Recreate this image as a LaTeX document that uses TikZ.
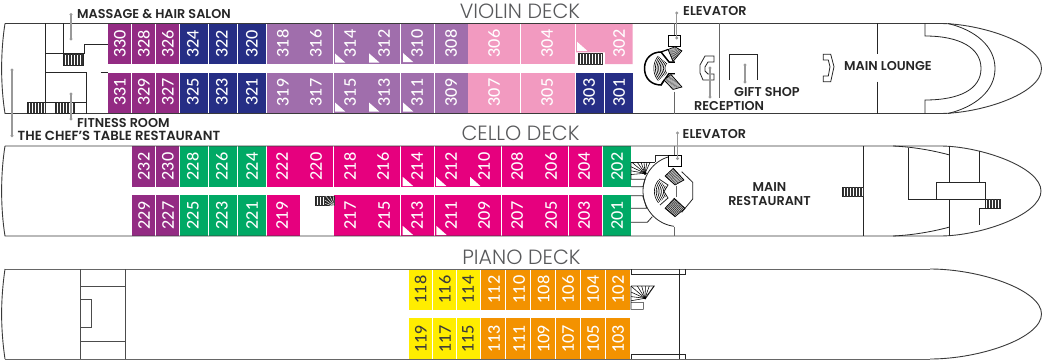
\documentclass[tikz,border=0pt]{standalone}
\usepackage{fontspec}
\newfontfamily\numfont{Lato}[UprightFont=* Medium]
\setmainfont{Lato}
\newfontfamily\lblfont{Poppins}[UprightFont=* SemiBold]
\newfontfamily\ttlfont{Poppins}[UprightFont=* Light]
\definecolor{cPurple}{HTML}{932B83}
\definecolor{cNavy}{HTML}{262E85}
\definecolor{cLav}{HTML}{A06EAC}
\definecolor{cPink}{HTML}{F29AC0}
\definecolor{cMag}{HTML}{E6007E}
\definecolor{cGreen}{HTML}{00A965}
\definecolor{cYel}{HTML}{FFED00}
\definecolor{cOra}{HTML}{F39200}
\definecolor{cLead}{HTML}{999999}
\definecolor{cLine}{HTML}{3A3A3A}
\definecolor{cTitle}{HTML}{58595B}
\tikzset{
  x=1pt,y=-1pt,
  roomno/.style={rotate=90,text=white,font=\numfont\fontsize{16}{16}\selectfont,inner sep=0pt},
  roomnod/.style={roomno,text=cLine},
  lbl/.style={anchor=west,inner sep=0pt,text=black!85,font=\lblfont\fontsize{12.8}{12}\selectfont},
  ttl/.style={inner sep=0pt,text=cTitle,font=\ttlfont\fontsize{20.6}{21}\selectfont},
  hull/.style={draw=cLine,line width=0.9pt},
  wall/.style={draw=black!85,line width=0.8pt},
  graywall/.style={draw=black!60,line width=1pt},
  lead/.style={draw=cLead,line width=1.3pt},
  tri/.style={fill=white},
}
\newcommand\room[5]{\fill[#5] (#1,#3) rectangle (#2,#4);}
\newcommand\num[3]{\node[roomno] (r#3) at (#1,#2) {#3};}
\newcommand\numd[3]{\node[roomnod] (r#3) at (#1,#2) {#3};}
\newcommand\trig[2]{\fill[tri] (#1,#2) -- (#1,#2+9.2) -- (#1+10.4,#2+9.2) -- cycle;}
\newcommand\leadr[3]{\draw[lead] (#1,#2) -- (#1,#3); \fill[cLead] (#1,#2) circle (1.7) (#1,#3) circle (1.7);}
\newcommand\vstair[4]{%
  \fill[white] (#1,#2) rectangle (#3,#4);
  \draw[black!85,line width=0.5pt] (#1,#2) rectangle (#3,#4);
  \pgfmathsetmacro\stA{#1+1.5}\pgfmathsetmacro\stB{#1+3}
  \foreach \sx in {\stA,\stB,...,#3}{\draw[black!80,line width=0.75pt] (\sx,#2) -- (\sx,#4);}
}
\newcommand\fan[5]{% cx cy r0 r1(second value) r-last: concentric arcs, left side
  \foreach \sr in {#3,#4,...,#5}{\draw[black,line width=0.6pt] plot[domain=140:220,samples=15] ({#1+\sr*cos(\x)},{#2+\sr*sin(\x)});}
}
\newcommand\rays[4]{% cx cy r list of angles
  \foreach \sa in {#4}{\draw[black,line width=0.55pt] (#1,#2) -- ({#1+#3*cos(\sa)},{#2+#3*sin(\sa)});}
}
\newcommand\hatchq[8]{% parallelogram stair
  \fill[black!85] (#1,#2) -- (#3,#4) -- (#5,#6) -- (#7,#8) -- cycle;
  \foreach \st in {0.1,0.2,...,0.95}{\draw[white,line width=0.35pt] ({#1+\st*(#3-#1)},{#2+\st*(#4-#2)}) -- ({#7+\st*(#5-#7)},{#8+\st*(#6-#8)});}
  \draw[black,line width=0.6pt] (#1,#2) -- (#3,#4) -- (#5,#6) -- (#7,#8) -- cycle;
}
\begin{document}
\begin{tikzpicture}
\useasboundingbox (0,0) rectangle (1048,361);
\fill[white] (0,0) rectangle (1048,361);

%%% VIOLIN rooms
\room{108}{131}{23.5}{64}{cPurple}\room{132}{155}{23.5}{64}{cPurple}\room{156}{179.3}{23.5}{64}{cPurple}
\room{180}{208.3}{23.5}{64}{cNavy}\room{209.3}{237}{23.5}{64}{cNavy}\room{238}{266.3}{23.5}{64}{cNavy}
\room{267}{333.3}{23.5}{64}{cLav}\room{334.3}{400}{23.5}{64}{cLav}\room{401.3}{434}{23.5}{64}{cLav}\room{435}{468}{23.5}{64}{cLav}
\room{468}{520}{23.5}{64}{cPink}\room{521}{574.5}{23.5}{64}{cPink}
\fill[cPink] (576,23.5) -- (632.5,23.5) -- (632.5,64) -- (605,64) -- (605,52.5) -- (576,52.5) -- cycle;
\room{108}{131}{73}{113}{cPurple}\room{132}{155}{73}{113}{cPurple}\room{156}{179.3}{73}{113}{cPurple}
\room{180}{208.3}{73}{113}{cNavy}\room{209.3}{237}{73}{113}{cNavy}\room{238}{266.3}{73}{113}{cNavy}
\room{267}{333.3}{73}{113}{cLav}\room{334.3}{400}{73}{113}{cLav}\room{401.3}{434}{73}{113}{cLav}\room{435}{468}{73}{113}{cLav}
\room{468}{520}{73}{113}{cPink}\room{521}{574.5}{73}{113}{cPink}
\room{576}{604}{73}{113}{cNavy}\room{605}{633}{73}{113}{cNavy}
\foreach \tx/\ty in {335/53.5,369/53.3,403/53,577/41.7,335/102.5,369/102.5,403/102.5}{\trig{\tx}{\ty}}
\num{120}{44}{330}\num{144}{44}{328}\num{168}{44}{326}\num{193}{44}{324}\num{222}{44}{322}\num{252}{44}{320}
\num{283}{43.5}{318}\num{316}{43.5}{316}\num{350}{43.5}{314}\num{384}{43.5}{312}\num{417}{43.5}{310}\num{451}{43.5}{308}
\num{494}{43.5}{306}\num{547}{43.5}{304}\num{619}{43.5}{302}
\num{120}{92}{331}\num{144}{92}{329}\num{168}{92}{327}\num{193}{92}{325}\num{222}{92}{323}\num{252}{92}{321}
\num{283}{92.5}{319}\num{316}{92.5}{317}\num{350}{92.5}{315}\num{384}{92.5}{313}\num{417}{92.5}{311}\num{451}{92.5}{309}
\num{494}{92.5}{307}\num{547}{92.5}{305}\num{589}{92.5}{303}\num{619}{92.5}{301}

%%% VIOLIN hull
\draw[hull] (5,23.5) -- (940,23.5) .. controls (980,23.5) and (1041.5,43) .. (1041.5,68.5) .. controls (1041.5,94) and (980,113.5) .. (940,113.5) -- (5,113.5) .. controls (0.5,85) and (0.5,52) .. (5,23.5);
\draw[wall] (948,23.5) .. controls (975,30) and (995,46) .. (995,68.5) .. controls (995,91) and (975,107) .. (948,113.5);
\draw[wall] (925,23.5) -- (925,36) .. controls (960,36) and (981,48) .. (981,68.5) .. controls (981,89) and (960,100) .. (925,100) -- (925,113.5);
\draw[wall] (877.3,23.5) -- (877.3,54.3) (877.3,81.7) -- (877.3,113.5);
\draw[wall] (823.3,54.3) -- (830.7,54.3) -- (834,66.7) -- (830.7,81.7) -- (823.3,81.7) -- (823.3,76) -- (828.3,76) -- (830,66.7) -- (828.3,60) -- (823.3,60) -- cycle;
\draw[wall] (729.3,80) -- (729.3,54.3) -- (757.7,54.3) -- (757.7,80);
\draw[graywall] (719.3,23.5) -- (719.3,98);
\draw[wall] (714,56) -- (705,56) -- (700,65) -- (700,73) -- (703,80) -- (714,80) -- (714,74) -- (708,74) -- (705,71) -- (705,67) -- (708,62) -- (714,62) -- cycle;
% left walls violin
\draw[wall] (45,23.5) -- (45,53.3) -- (84.3,53.3) -- (84.3,44.3) -- (108,44.3);
\draw[wall] (63.3,23.5) -- (63.3,53.3);
\draw[wall] (45,53.3) -- (45,113.5);
\draw[wall] (45,72.7) -- (86,72.7) -- (86,113.5);
\draw[wall] (100.7,72.7) -- (108,72.7);
\draw[wall] (27.3,102.7) -- (86,102.7);
\vstair{63}{54}{83}{65.3}
\vstair{27.3}{102.7}{45.7}{113.3}
\vstair{55}{102.7}{74}{113.3}
% central stairs violin
\vstair{578}{53.5}{602}{64.5}
\draw[graywall] (674,23.5) -- (674,35);
\draw[graywall] (674,91.5) -- (674,113.5);
\draw[black,line width=0.9pt,fill=white] (668.3,35) rectangle (680.7,46.7);
\draw[black,line width=1.5pt,fill=white] (661,52) .. controls (652,52) and (644.5,58) .. (644.5,68.3) .. controls (644.5,79) and (652,85) .. (661,85) -- (669,73.5) -- (674,73.5) -- (674,62) -- (669,62) -- cycle;
\fan{673}{68.3}{8}{9.6}{20}
\hatchq{668}{49.5}{675}{46.8}{682}{50.8}{673}{61.5}
\hatchq{664}{80}{671}{74.5}{682}{87}{673}{89.5}
\draw[black,line width=1.2pt] (668,49.5) -- (661,52);
\draw[black,line width=1.2pt] (664,80) -- (661,85);
\fill[white] (669,62.7) rectangle (680,73);
% VIOLIN leaders
\leadr{71}{14.5}{39}\leadr{71}{94}{119}\leadr{12}{70}{135.7}\leadr{676.7}{13}{38}\leadr{710}{68}{97}\leadr{745}{65}{82}
\node[lbl] (massage) at (77,14.5) {MASSAGE \& HAIR SALON};
\node[lbl] (fitness) at (77,122.7) {FITNESS ROOM};
\node[lbl,font=\lblfont\fontsize{13.2}{13}\selectfont] (chef) at (17.5,135.5) {THE CHEF’S TABLE RESTAURANT};
\node[lbl] (elev3) at (683,11) {ELEVATOR};
\node[lbl] (gift) at (734,92) {GIFT SHOP};
\node[lbl] (recep) at (694,106.5) {RECEPTION};
\node[lbl] (lounge) at (844,66.5) {MAIN LOUNGE};
\node[ttl] (tv) at (520,11.5) {VIOLIN DECK};
\node[ttl] (tc) at (520.5,133) {CELLO DECK};
\node[ttl] (tp) at (521.5,257) {PIANO DECK};

%%% CELLO rooms
\room{132}{155}{146}{187}{cPurple}\room{156}{179.3}{146}{187}{cPurple}
\room{180}{208.3}{146}{187}{cGreen}\room{209.3}{237}{146}{187}{cGreen}\room{238}{266.3}{146}{187}{cGreen}
\room{267}{333.3}{146}{187}{cMag}\room{334.3}{400}{146}{187}{cMag}\room{401.3}{434}{146}{187}{cMag}\room{435}{501}{146}{187}{cMag}\room{502}{568}{146}{187}{cMag}\room{569}{602}{146}{187}{cMag}
\room{603}{631}{146}{187}{cGreen}
\room{132}{155}{195}{236}{cPurple}\room{156}{179.3}{195}{236}{cPurple}
\room{180}{208.3}{195}{236}{cGreen}\room{209.3}{237}{195}{236}{cGreen}\room{238}{266.3}{195}{236}{cGreen}
\room{267}{300}{195}{236}{cMag}\room{334.3}{400}{195}{236}{cMag}\room{401.3}{434}{195}{236}{cMag}\room{435}{501}{195}{236}{cMag}\room{502}{568}{195}{236}{cMag}\room{569}{602}{195}{236}{cMag}
\room{603}{631}{195}{236}{cGreen}
\foreach \tx/\ty in {402.7/176.8,436/176.8,470/176.8,402.7/225.8,436.3/225.8}{\trig{\tx}{\ty}}
\num{144}{166.5}{232}\num{168}{166.5}{230}\num{193}{166.5}{228}\num{222}{166.5}{226}\num{252}{166.5}{224}\num{282}{166.5}{222}\num{316}{166.5}{220}
\num{350}{166.5}{218}\num{383}{166.5}{216}\num{417}{166.5}{214}\num{451}{166.5}{212}\num{484}{166.5}{210}\num{517}{166.5}{208}\num{551}{166.5}{206}\num{584}{166.5}{204}\num{617}{166.5}{202}
\num{144}{215.5}{229}\num{168}{215.5}{227}\num{193}{215.5}{225}\num{222}{215.5}{223}\num{252}{215.5}{221}\num{282}{215.5}{219}
\num{350}{215.5}{217}\num{384}{215.5}{215}\num{417}{215.5}{213}\num{451}{215.5}{211}\num{484}{215.5}{209}\num{517}{215.5}{207}\num{551}{215.5}{205}\num{584}{215.5}{203}\num{617}{215.5}{201}

%%% CELLO hull
\draw[hull] (5,146) -- (940,146) .. controls (980,146) and (1041,167) .. (1041,191) .. controls (1041,215) and (980,236) .. (940,236) -- (5,236) .. controls (0.5,208) and (0.5,174) .. (5,146);
\vstair{315}{195.8}{334}{205.7}
\fill[black!85] (325,195.8) rectangle (334,205.7);
\begin{scope}
\clip (325,195.8) rectangle (334,205.7);
\foreach \sa in {185,200,215,230,245,260}{\draw[white,line width=0.45pt] (335,207) -- ({335+16*cos(\sa)},{207+16*sin(\sa)});}
\end{scope}
% right end
\draw[wall] (863.3,146) -- (863.3,236);
\vstair{842}{187.3}{863.3}{196.7}
\draw[wall] (893,146) .. controls (915,147) and (935,151) .. (949.7,155);
\draw[wall] (893,236) .. controls (915,235) and (935,231) .. (949.7,227);
\draw[wall] (908.3,147.5) -- (908.3,199.3) -- (985.7,199.3) -- (985.7,182.7) -- (936.7,182.7) -- (936.7,199.3);
\draw[wall] (949.7,146) -- (949.7,182.7) (949.7,199.3) -- (949.7,236);
\draw[wall] (979.3,150.5) -- (979.3,182.7);
\draw[wall] (985.7,199.3) -- (985.7,208.3) -- (979.3,208.3) -- (979.3,225);
\vstair{985.7}{199}{1000.7}{208.3}
% central cello
\draw[graywall] (674,146) -- (674,156);
\draw[wall] (668.3,155.7) -- (655.3,155.7) -- (655.3,161.7);
\draw[wall] plot[domain=97.5:253,samples=40] ({678.6+35.6*cos(\x)},{191+35.6*sin(\x)});
\draw[graywall] (674,226.7) -- (674,236);
\draw[black,line width=0.9pt,fill=white] (668.3,155.7) rectangle (681,166.8);
\draw[wall] (681.7,171.7) -- (692.7,182.3) -- (692.7,199) -- (681.7,212.3);
\draw[graywall] (676,185.7) -- (676,197.3);
\draw[wall] (659,179) -- (668,185) -- (664,191.5) -- (668,198) -- (660,205);
\begin{scope}
\clip (654,175) -- (668,185) -- (664,191.5) -- (668,198) -- (654,208) -- (648,192) -- cycle;
\fan{672}{191.5}{5}{6.8}{19}
\end{scope}
\hatchq{665}{176}{673.3}{168.3}{684}{180}{675}{185}
\hatchq{665}{208.3}{674.3}{198.3}{685}{208.3}{675}{216.7}
% left fan stairs
\draw[wall] (631,162.7) -- (655,162.7);
\draw[wall] (631,162.7) -- (631,179.3) -- (645,179.3) -- (643,186.7) -- (631,186.7);
\begin{scope}
\clip (631,162.7) rectangle (654,179.3);
\rays{645}{173.3}{22}{175,190,205,220,235,250,265,280,295}
\end{scope}
\fill[black] (645,173.3) circle (1.8);
\draw[wall] (631,195.7) -- (642.7,195.7) -- (646.7,208.3) -- (631,208.3);
\draw[wall] (631,222.3) -- (647.3,222.3) -- (652.3,216.7);
\leadr{677.5}{133}{158.5}
\node[lbl] (elev2) at (682.5,134) {ELEVATOR};
\node[lbl,anchor=center,align=center,font=\lblfont\fontsize{12.8}{13.4}\selectfont] (mainr) at (769.5,194) {MAIN\\RESTAURANT};

%%% PIANO rooms
\room{409}{432.3}{269}{310}{cYel}\room{433}{456}{269}{310}{cYel}\room{456.7}{480}{269}{310}{cYel}
\room{481}{505}{269}{310}{cOra}\room{506}{530}{269}{310}{cOra}\room{530.7}{555}{269}{310}{cOra}\room{556}{580}{269}{310}{cOra}\room{581}{605}{269}{310}{cOra}\room{606}{630}{269}{310}{cOra}
\room{409}{432.3}{317.7}{359}{cYel}\room{433}{456}{317.7}{359}{cYel}\room{456.7}{480}{317.7}{359}{cYel}
\room{481}{505}{317.7}{359}{cOra}\room{506}{530}{317.7}{359}{cOra}\room{530.7}{555}{317.7}{359}{cOra}\room{556}{580}{317.7}{359}{cOra}\room{581}{605}{317.7}{359}{cOra}\room{606}{630}{317.7}{359}{cOra}
\numd{420.7}{289.5}{118}\numd{445}{289.5}{116}\numd{468}{289.5}{114}\num{494}{289.5}{112}\num{519}{289.5}{110}\num{543.5}{289.5}{108}\num{568}{289.5}{106}\num{593}{289.5}{104}\num{618}{289.5}{102}
\numd{420.7}{339}{119}\numd{445}{339}{117}\numd{468}{339}{115}\num{494}{339}{113}\num{519}{339}{111}\num{543.5}{339}{109}\num{568}{339}{107}\num{593}{339}{105}\num{618}{339}{103}

%%% PIANO hull
\draw[hull,draw=black!60,line width=1pt] (5,269) -- (930,269) (5,359) -- (930,359);
\draw[hull] (930,269) .. controls (980,269) and (1041.5,290) .. (1041.5,314) .. controls (1041.5,338) and (980,359) .. (930,359);
\draw[hull] (5,269) .. controls (0.5,300) and (0.5,328) .. (5,359);
\draw[wall,draw=black!70] (80.7,269) -- (80.7,359) (125.7,269) -- (125.7,359);
\draw[wall,draw=black!70] (80.7,286.7) -- (125.7,286.7) (80.7,341) -- (125.7,341);
\draw[wall,draw=black!70] (80.7,299.3) -- (91.7,299.3) -- (91.7,327.7) -- (80.7,327.7);
\draw[wall] (679.3,269) -- (679.3,359);
\draw[wall] (631,269) -- (631,274) -- (685.7,274) -- (685.7,269);
\draw[wall] (631,359) -- (631,354) -- (685.7,354) -- (685.7,359);
\draw[wall,line width=0.6pt] (631,286) -- (654.3,286) -- (646,298) (631,286) -- (631,302.3) -- (643.3,302.3) -- (643.3,309.3) -- (631,309.3) -- (631,302.3);
\begin{scope}
\clip (631,286) rectangle (655,302.3);
\rays{645}{298.3}{20}{170,187,204,221,238,255,272,289,306}
\end{scope}
\fill[black] (645,298.3) circle (1.2);
\end{tikzpicture}
\end{document}
